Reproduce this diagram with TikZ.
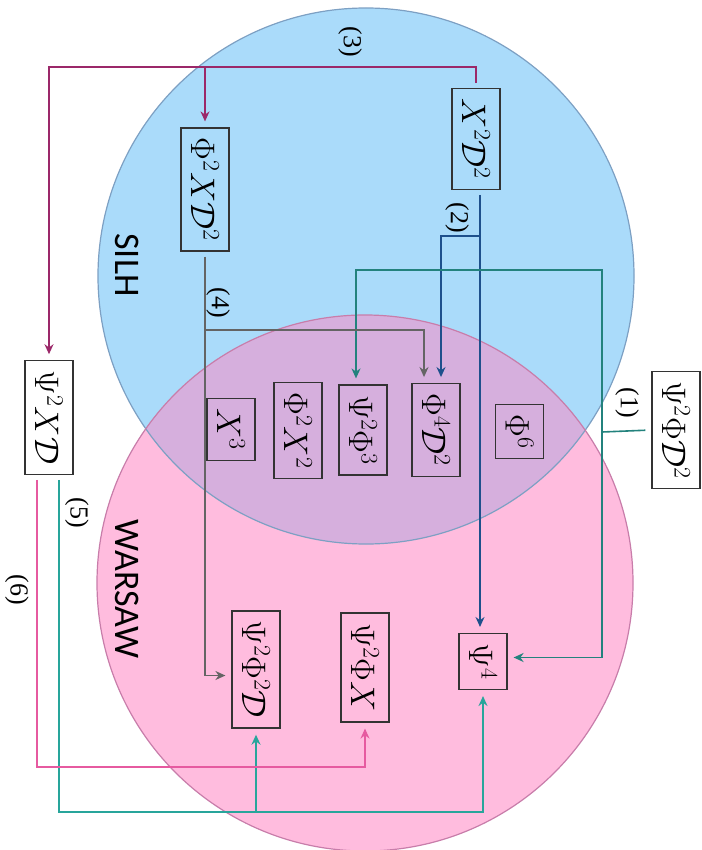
\RequirePackage{fix-cm}
\documentclass[tikz,border=0pt]{standalone}
\usepackage{fontspec}
\newfontfamily\calib{Carlito}
\newfontfamily\tnr{Liberation Serif}
\usetikzlibrary{arrows.meta}
\definecolor{silhfill}{RGB}{170,219,250}
\definecolor{warfill}{RGB}{255,188,222}
\definecolor{bothfill}{RGB}{214,175,221}
\definecolor{silhedge}{RGB}{125,160,195}
\definecolor{waredge}{RGB}{200,125,170}
\definecolor{cthree}{RGB}{155,40,105}
\definecolor{ctwo}{RGB}{30,80,140}
\definecolor{cone}{RGB}{35,130,125}
\definecolor{cfour}{RGB}{100,100,100}
\definecolor{cfive}{RGB}{40,165,155}
\definecolor{csix}{RGB}{230,90,160}
\tikzset{
  opbox/.style={draw=black!80, line width=1.2pt, rotate=-90, minimum height=48pt,
    inner xsep=10pt, inner ysep=0pt, font=\fontsize{34}{40}\selectfont},
  conn/.style={line width=1.6pt, shorten <=5pt, shorten >=6pt,
    -{Stealth[length=10pt,width=9pt]}},
  plain/.style={line width=1.6pt},
  lab/.style={rotate=-90, font=\tnr\fontsize{26}{30}\selectfont},
  setlab/.style={rotate=-90, font=\calib\fontsize{36}{40}\selectfont}
}
\begin{document}
\begin{tikzpicture}[x=1pt,y=1pt]
\useasboundingbox (0,0) rectangle (701,-850);
% circles
\fill[silhfill] (366,-276) circle (268);
\fill[warfill] (365,-583) circle (268);
\begin{scope}
  \clip (366,-276) circle (268);
  \fill[bothfill] (365,-583) circle (268);
\end{scope}
\draw[silhedge, line width=1.2pt] (366,-276) circle (268);
\draw[waredge, line width=1.2pt] (365,-583) circle (268);
% set labels
\node[setlab] (silh) at (127,-265) {SILH};
\node[setlab] (warsaw) at (127,-589) {WARSAW};
% operator boxes
\node[opbox] (x2d2) at (476,-139) {$X^2\mathcal{D}^2$};
\node[opbox] (phi2xd2) at (205,-189.5) {$\Phi^2X\mathcal{D}^2$};
\node[opbox] (psi2xd) at (49,-417.5) {$\Psi^2X\mathcal{D}$};
\node[opbox] (x3) at (231,-429.5) {$X^3$};
\node[opbox] (phi2x2) at (298,-430.5) {$\Phi^2X^2$};
\node[opbox] (psi2phi3) at (363,-430) {$\Psi^2\Phi^3$};
\node[opbox] (phi4d2) at (436,-430) {$\Phi^4\mathcal{D}^2$};
\node[opbox] (phi6) at (519.5,-431.5) {$\Phi^6$};
\node[opbox] (psi2phid2) at (676,-430) {$\Psi^2\Phi\mathcal{D}^2$};
\node[opbox] (psi2phi2d) at (256,-669.5) {$\Psi^2\Phi^2\mathcal{D}$};
\node[opbox] (psi2phix) at (365,-667.5) {$\Psi^2\Phi X$};
\node[opbox] (psi4) at (483,-661.5) {$\Psi^4$};
% helper levels
\coordinate (k3) at (0,-67);
\coordinate (k2) at (0,-236);
\coordinate (k1) at (0,-270);
\coordinate (j1) at (602,-432);
\coordinate (k4) at (0,-330);
\coordinate (k5) at (0,-812);
\coordinate (k6) at (0,-767);
\coordinate (s2) at ([xshift=4pt]x2d2.east);
\coordinate (t2) at ([xshift=5pt]phi4d2.west);
\coordinate (t1) at ([xshift=-7pt]psi2phi3.west);
\coordinate (t4) at ([xshift=-12pt]phi4d2.west);
\coordinate (s5) at ([xshift=10pt]psi2xd.east);
\coordinate (s6) at ([xshift=-12pt]psi2xd.east);
% (3)
\draw[conn, cthree] (x2d2.west) -- (x2d2.west |- k3) -| (psi2xd.west);
\draw[conn, cthree, shorten <=0pt] (phi2xd2.west |- k3) -- (phi2xd2.west);
\node[lab] (l3) at (350,-42) {(3)};
% (2)
\draw[conn, ctwo] (s2) -- (s2 |- psi4.west);
\draw[conn, ctwo, shorten <=0pt] (s2 |- k2) -| (t2);
\node[lab] (l2) at (457,-218) {(2)};
% (1)
\draw[plain, cone, shorten <=6pt] (psi2phid2.south) -- (j1);
\draw[conn, cone, shorten <=0pt] (j1) |- ([yshift=4pt]psi4.north);
\draw[conn, cone, shorten <=0pt] (j1) -- (j1 |- k1) -| (t1);
\node[lab] (l1) at (627,-403) {(1)};
% (4)
\draw[conn, cfour] (phi2xd2.east) |- ([yshift=-6pt]psi2phi2d.south);
\draw[conn, cfour, shorten <=0pt] (phi2xd2.east |- k4) -| (t4);
\node[lab] (l4) at (218,-303) {(4)};
% (5)
\draw[conn, cfive] (s5) -- (s5 |- k5) -| (psi4.east);
\draw[conn, cfive, shorten <=0pt] (psi2phi2d.east |- k5) -- (psi2phi2d.east);
\node[lab] (l5) at (77,-513) {(5)};
% (6)
\draw[conn, csix] (s6) -- (s6 |- k6) -| (psi2phix.east);
\node[lab] (l6) at (17,-590) {(6)};
\end{tikzpicture}
\end{document}
